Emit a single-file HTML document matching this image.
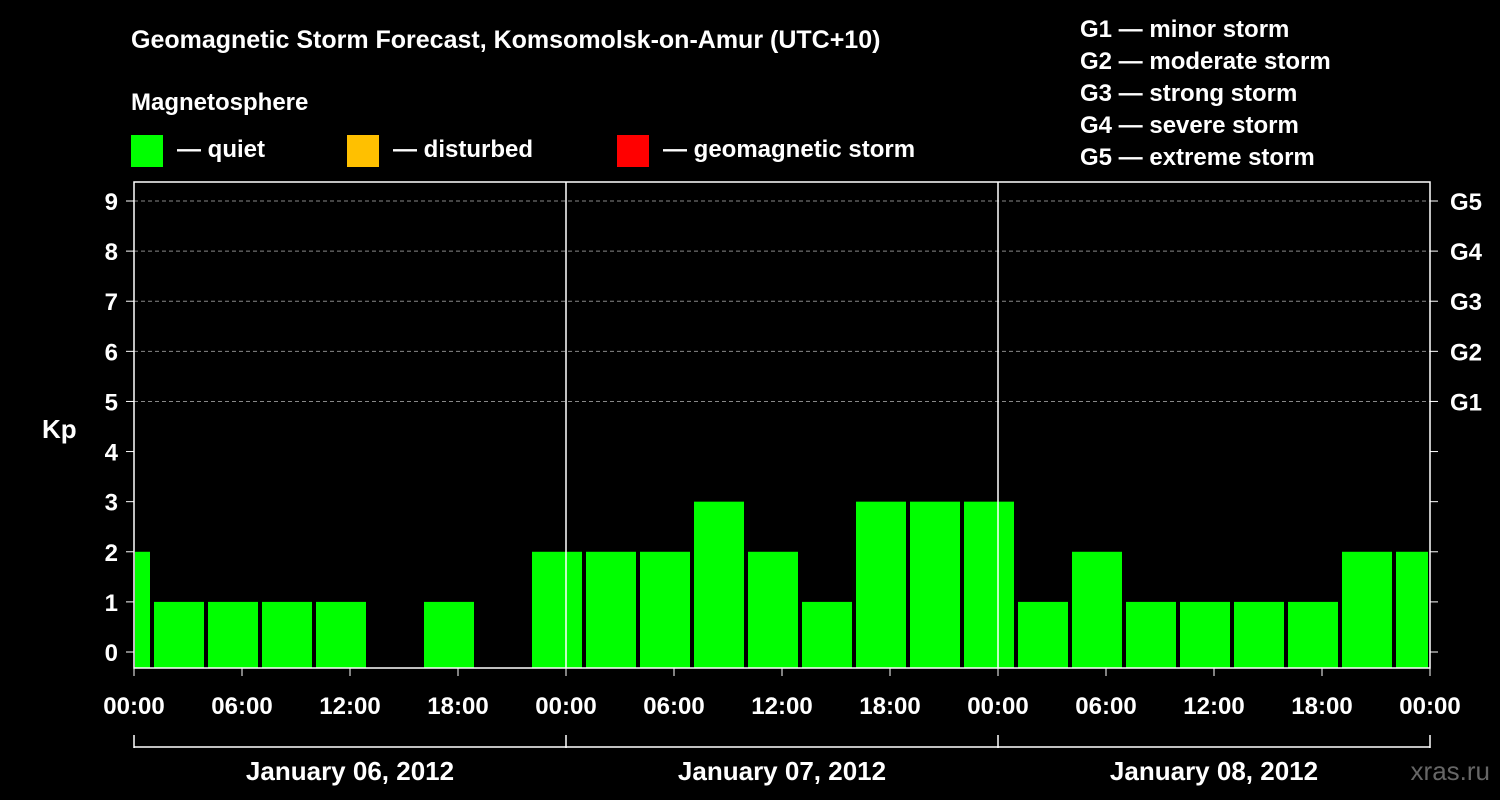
<!DOCTYPE html>
<html><head><meta charset="utf-8"><style>
body{margin:0;background:#000;}
svg{display:block;font-family:"Liberation Sans",Arial,sans-serif;font-weight:bold;}
</style></head><body>
<svg id="c" width="1500" height="800" viewBox="0 0 1500 800">
<text x="131" y="48" fill="#fff" font-size="25">Geomagnetic Storm Forecast, Komsomolsk-on-Amur (UTC+10)</text>
<text x="131" y="110" fill="#fff" font-size="24">Magnetosphere</text>
<g><rect x="131" y="135" width="32" height="32" fill="#00ff00"/><text x="177" y="157" fill="#fff" font-size="24">— quiet</text></g>
<g><rect x="347" y="135" width="32" height="32" fill="#ffc000"/><text x="393" y="157" fill="#fff" font-size="24">— disturbed</text></g>
<g><rect x="617" y="135" width="32" height="32" fill="#ff0000"/><text x="663" y="157" fill="#fff" font-size="24">— geomagnetic storm</text></g>
<g fill="#fff" font-size="24">
<text x="1080" y="37">G1 — minor storm</text><text x="1080" y="69">G2 — moderate storm</text><text x="1080" y="101">G3 — strong storm</text><text x="1080" y="133">G4 — severe storm</text><text x="1080" y="165">G5 — extreme storm</text></g>
<g id="grid"></g><g id="bars"></g><g id="axes"></g>
<text x="42" y="438" fill="#fff" font-size="26">Kp</text>
<text x="1490" y="780" fill="#666" font-size="26" text-anchor="end" font-weight="normal">xras.ru</text>
</svg>
<script>
const kpValues=[2,1,1,1,1,0,1,0,2,2,2,3,2,1,3,3,3,1,2,1,1,1,1,2,2];
const xTickLabels=["00:00","06:00","12:00","18:00","00:00","06:00","12:00","18:00","00:00","06:00","12:00","18:00","00:00"];
const dayLabels=["January 06, 2012","January 07, 2012","January 08, 2012"];
const yTicks=[0,1,2,3,4,5,6,7,8,9];
const gLabels=["G1","G2","G3","G4","G5"];
const NS="http://www.w3.org/2000/svg";
const L=134,R=1430,T=182,B=668;
const xh=h=>L+h*(R-L)/72;
const yv=v=>652-v*(652-201)/9;
function mk(tag,attrs,parent,txt){const e=document.createElementNS(NS,tag);for(const k in attrs)e.setAttribute(k,attrs[k]);if(txt!==undefined)e.textContent=txt;document.getElementById(parent).appendChild(e);return e;}
// grid
for(let v=5;v<=9;v++){const g=mk('line',{x1:L,x2:R,y1:yv(v),y2:yv(v),stroke:'#888','stroke-dasharray':'4,3','stroke-width':1},'grid');

}
// bars
kpValues.forEach((v,i)=>{if(v<=0)return;let s=xh(-2+3*i)+2,e=xh(1+3*i)-2;s=Math.max(s,L+1);e=Math.min(e,R-2);
const b=mk('rect',{x:s,y:yv(v),width:e-s,height:B-yv(v),fill:'#00ff00'},'bars');

});
// frame
const f=mk('rect',{x:L,y:T,width:R-L,height:B-T,fill:'none',stroke:'#fff','stroke-width':1.5},'axes');


[24,48].forEach(h=>{const l=mk('line',{x1:xh(h),x2:xh(h),y1:T,y2:B,stroke:'#fff','stroke-width':1.5},'axes');

});
yTicks.forEach(v=>{mk('line',{x1:L-8,x2:L,y1:yv(v),y2:yv(v),stroke:'#fff'},'axes');mk('line',{x1:R,x2:R+8,y1:yv(v),y2:yv(v),stroke:'#fff'},'axes');
const t=mk('text',{x:118,y:yv(v)+9,fill:'#fff','font-size':24,'text-anchor':'end'},'axes',String(v));

});
gLabels.forEach((g,i)=>{const t=mk('text',{x:1450,y:yv(5+i)+9,fill:'#fff','font-size':24},'axes',g);

});
xTickLabels.forEach((s,i)=>{mk('line',{x1:xh(6*i),x2:xh(6*i),y1:B,y2:B+8,stroke:'#fff'},'axes');
const t=mk('text',{x:xh(6*i),y:714,fill:'#fff','font-size':24,'text-anchor':'middle'},'axes',s);

});
mk('line',{x1:L,x2:R,y1:747,y2:747,stroke:'#fff','stroke-width':1.5},'axes');
[0,24,48,72].forEach(h=>mk('line',{x1:xh(h),x2:xh(h),y1:735,y2:748,stroke:'#fff','stroke-width':1.5},'axes'));
dayLabels.forEach((d,i)=>{const t=mk('text',{x:xh(12+24*i),y:780,fill:'#fff','font-size':26,'text-anchor':'middle'},'axes',d);

});
</script>
</body></html>
